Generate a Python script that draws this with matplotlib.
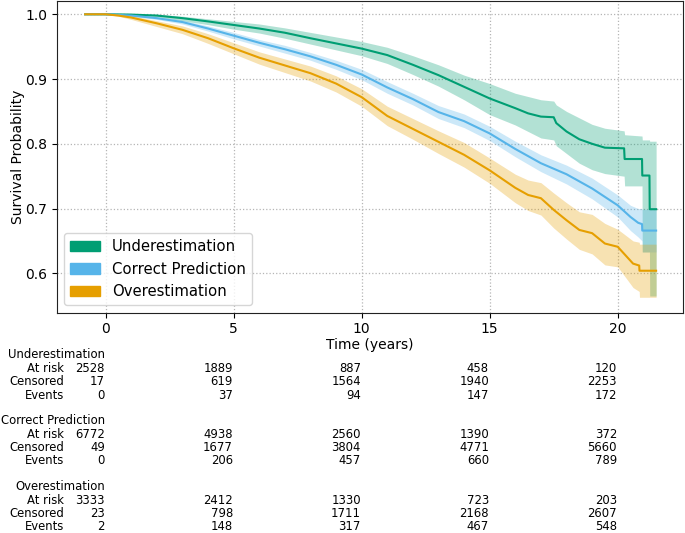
import numpy as np
import matplotlib
matplotlib.use("Agg")
import matplotlib.pyplot as plt
import matplotlib.patches as mpatches
import matplotlib.transforms as mtransforms

# Kaplan-Meier estimates (time in years)
under_t = [-0.8, 0, 1, 2, 3, 4, 5, 6, 7, 8, 9, 10, 11, 12, 13, 14, 15, 16, 16.5, 17,
           17.5, 17.6, 18, 18.5, 19, 19.5, 20.25, 20.27, 20.95, 20.96, 21.24, 21.25, 21.5]
under_s = [1.0, 1.0, 0.9995, 0.998, 0.994, 0.989, 0.9835, 0.978, 0.9715, 0.963, 0.955,
           0.947, 0.937, 0.922, 0.906, 0.888, 0.870, 0.855, 0.847, 0.842, 0.841, 0.832,
           0.819, 0.807, 0.800, 0.794, 0.793, 0.7765, 0.7765, 0.751, 0.751, 0.699, 0.699]
under_lo = [1.0, 1.0, 0.998, 0.996, 0.990, 0.984, 0.977, 0.971, 0.963, 0.954, 0.945,
            0.936, 0.924, 0.907, 0.889, 0.868, 0.845, 0.829, 0.819, 0.809, 0.806, 0.797,
            0.785, 0.770, 0.760, 0.754, 0.750, 0.735, 0.735, 0.633, 0.633, 0.565, 0.565]
under_hi = [1.0, 1.0, 1.0, 1.0, 0.997, 0.993, 0.989, 0.985, 0.979, 0.972, 0.965,
            0.958, 0.949, 0.936, 0.922, 0.906, 0.893, 0.878, 0.873, 0.868, 0.866, 0.860,
            0.850, 0.840, 0.830, 0.824, 0.820, 0.814, 0.812, 0.806, 0.806, 0.804, 0.804]

correct_t = [-0.8, 0, 1, 2, 3, 4, 5, 6, 7, 8, 9, 10, 11, 12, 13, 14, 15, 16, 17, 18,
             19, 20, 20.5, 20.8, 20.95, 20.96, 21.5]
correct_s = [1.0, 1.0, 0.998, 0.994, 0.988, 0.978, 0.967, 0.956, 0.946, 0.935, 0.922,
             0.907, 0.887, 0.869, 0.849, 0.835, 0.816, 0.792, 0.770, 0.753, 0.731,
             0.705, 0.687, 0.678, 0.676, 0.666, 0.666]
correct_lo = [1.0, 1.0, 0.997, 0.992, 0.985, 0.974, 0.962, 0.951, 0.940, 0.929, 0.915,
              0.899, 0.878, 0.860, 0.839, 0.825, 0.805, 0.780, 0.757, 0.738, 0.715,
              0.687, 0.666, 0.656, 0.650, 0.633, 0.633]
correct_hi = [1.0, 1.0, 0.999, 0.996, 0.991, 0.982, 0.972, 0.961, 0.952, 0.941, 0.929,
              0.915, 0.896, 0.878, 0.859, 0.846, 0.827, 0.804, 0.783, 0.767, 0.747,
              0.721, 0.705, 0.700, 0.700, 0.699, 0.699]

over_t = [-0.8, 0, 0.5, 1, 2, 3, 4, 5, 6, 7, 8, 9, 10, 11, 12, 13, 14, 15, 16, 16.5,
          17, 17.5, 18, 18.5, 19, 19.5, 20, 20.3, 20.6, 20.84, 20.85, 21.5]
over_s = [1.0, 1.0, 0.998, 0.995, 0.986, 0.976, 0.963, 0.9475, 0.933, 0.921, 0.909,
          0.893, 0.872, 0.843, 0.823, 0.803, 0.783, 0.759, 0.732, 0.721, 0.716, 0.698,
          0.682, 0.667, 0.662, 0.646, 0.641, 0.628, 0.615, 0.612, 0.604, 0.604]
over_lo = [1.0, 1.0, 0.997, 0.992, 0.981, 0.970, 0.955, 0.939, 0.923, 0.910, 0.897,
           0.880, 0.858, 0.828, 0.807, 0.785, 0.764, 0.739, 0.709, 0.697, 0.690, 0.670,
           0.653, 0.637, 0.630, 0.613, 0.610, 0.594, 0.578, 0.572, 0.563, 0.563]
over_hi = [1.0, 1.0, 0.999, 0.998, 0.990, 0.982, 0.970, 0.956, 0.942, 0.931, 0.920,
           0.905, 0.885, 0.858, 0.839, 0.820, 0.802, 0.778, 0.753, 0.744, 0.740, 0.724,
           0.709, 0.695, 0.691, 0.677, 0.668, 0.659, 0.650, 0.648, 0.645, 0.645]

# number-at-risk table
table_ticks = [0, 5, 10, 15, 20]
under_risk = [2528, 1889, 887, 458, 120]
under_cens = [17, 619, 1564, 1940, 2253]
under_events = [0, 37, 94, 147, 172]
correct_risk = [6772, 4938, 2560, 1390, 372]
correct_cens = [49, 1677, 3804, 4771, 5660]
correct_events = [0, 206, 457, 660, 789]
over_risk = [3333, 2412, 1330, 723, 203]
over_cens = [23, 798, 1711, 2168, 2607]
over_events = [2, 148, 317, 467, 548]

groups = [
    ("Underestimation", "#009E73", under_t, under_s, under_lo, under_hi,
     under_risk, under_cens, under_events),
    ("Correct Prediction", "#56B4E9", correct_t, correct_s, correct_lo, correct_hi,
     correct_risk, correct_cens, correct_events),
    ("Overestimation", "#E69F00", over_t, over_s, over_lo, over_hi,
     over_risk, over_cens, over_events),
]

W, H = 685, 533
fig = plt.figure(figsize=(W / 100, H / 100), dpi=100)
ax = fig.add_axes([57 / W, (H - 312.5) / H, (683 - 57) / W, (312.5 - 1) / H])

handles = []
for name, color, t, s, lo, hi, *_ in groups:
    ax.fill_between(t, lo, hi, color=color, alpha=0.3, linewidth=0)
    ax.plot(t, s, color=color, linewidth=1.5)
    handles.append(mpatches.Patch(color=color, label=name))

ax.set_xlim(-1.9, 22.55)
ax.set_ylim(0.5395, 1.0205)
ax.set_xticks([0, 5, 10, 15, 20])
ax.set_yticks([0.6, 0.7, 0.8, 0.9, 1.0])
ax.tick_params(labelsize=10)
ax.grid(True, linestyle=':', color='#b5b5b5', linewidth=0.9)
ax.set_axisbelow(True)
ax.set_xlabel("Time (years)", fontsize=10, labelpad=1)
ax.set_ylabel("Survival Probability", fontsize=10, labelpad=0.5)
for sp in ax.spines.values():
    sp.set_color('#222222')

ax.legend(handles=handles, loc='lower left', fontsize=10.7)

# at-risk table below the plot
trans = mtransforms.blended_transform_factory(ax.transData, fig.transFigure)
label_x = -1.62
header_y = [355, 420.7, 486.7]
row_gap = 13.4
for (name, color, t, s, lo, hi, risk, cens, events), y0 in zip(groups, header_y):
    ax.text(-0.03, (H - y0) / H, name, transform=trans, ha='right', va='center',
            fontsize=8.4, clip_on=False)
    rows = [("At risk", risk), ("Censored", cens), ("Events", events)]
    for k, (lab, vals) in enumerate(rows):
        yy = (H - (y0 + row_gap * (k + 1))) / H
        ax.text(label_x, yy, lab, transform=trans, ha='right', va='center',
                fontsize=8.4, clip_on=False)
        for tick, v in zip(table_ticks, vals):
            ax.text(tick - 0.03, yy, str(v), transform=trans, ha='right', va='center',
                    fontsize=8.4, clip_on=False)

fig.savefig("out.png", dpi=100)
